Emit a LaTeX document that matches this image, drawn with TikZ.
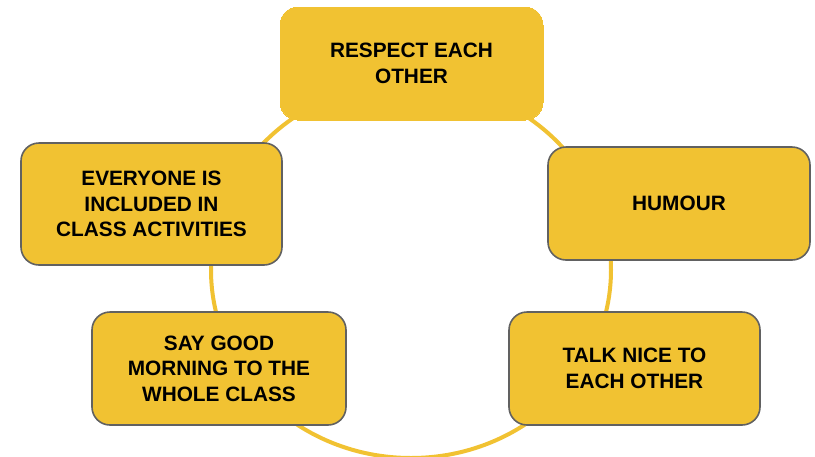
\documentclass[tikz,border=0pt]{standalone}
\usepackage{fontspec}
\setmainfont{Liberation Sans}
\definecolor{ringyellow}{HTML}{F1C232}
\definecolor{boxedge}{HTML}{616161}
\begin{document}
\begin{tikzpicture}[x=1pt,y=-1pt,
  valuebox/.style={rectangle, rounded corners=18pt, fill=ringyellow,
    draw=boxedge, line width=1.6pt, align=center, inner sep=0pt,
    font=\fontsize{20.8}{25.5}\selectfont\bfseries, text=black},
  ring/.style={draw=ringyellow, line width=4pt}]
  \useasboundingbox (0,0) rectangle (815,456);
  \clip (0,0) rectangle (815,456);
  % background ring linking the values
  \draw[ring] (411,270) ellipse [x radius=200pt, y radius=188pt];
  % the five values
  \node[valuebox, draw=ringyellow, line width=0pt, minimum width=263pt, minimum height=113pt]
    (respect) at (411.5,63.5) {RESPECT EACH\\OTHER};
  \node[valuebox, minimum width=261pt, minimum height=122pt]
    (included) at (151.5,204) {EVERYONE IS\\INCLUDED IN\\CLASS ACTIVITIES};
  \node[valuebox, minimum width=262pt, minimum height=113pt]
    (humour) at (679,203.5) {HUMOUR};
  \node[valuebox, minimum width=254pt, minimum height=113pt]
    (morning) at (219,368.5) {SAY GOOD\\MORNING TO THE\\WHOLE CLASS};
  \node[valuebox, minimum width=251pt, minimum height=113pt]
    (talk) at (634.5,368.5) {TALK NICE TO\\EACH OTHER};
\end{tikzpicture}
\end{document}
